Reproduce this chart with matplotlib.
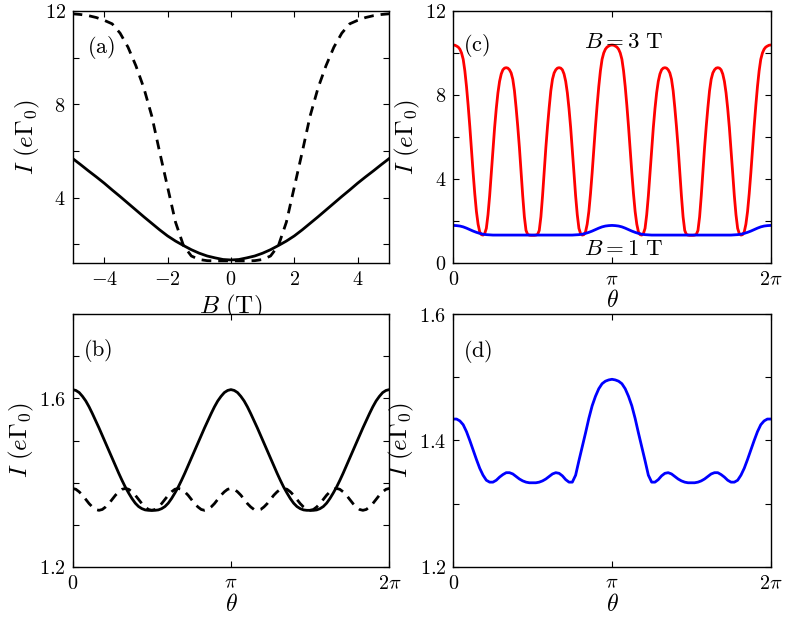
import matplotlib
matplotlib.use('Agg')
import matplotlib.pyplot as plt
import numpy as np

plt.rcParams['mathtext.fontset'] = 'cm'
plt.rcParams['font.family'] = ['DejaVu Serif']
plt.rcParams['xtick.direction'] = 'in'
plt.rcParams['ytick.direction'] = 'in'
plt.rcParams['xtick.top'] = True
plt.rcParams['ytick.right'] = True
plt.rcParams['xtick.major.size'] = 4
plt.rcParams['ytick.major.size'] = 4
plt.rcParams['axes.linewidth'] = 1.0

# ---------------- data ----------------
# panel (a): current vs magnetic field
B_field = np.arange(-5, 5.001, 0.25)
I_a_solid = [5.68, 5.42, 5.15, 4.89, 4.62, 4.33, 4.05, 3.76, 3.47, 3.18, 2.90,
             2.62, 2.36, 2.14, 1.95, 1.77, 1.62, 1.50, 1.42, 1.35, 1.33, 1.35,
             1.42, 1.50, 1.62, 1.77, 1.95, 2.14, 2.36, 2.62, 2.90, 3.18, 3.47,
             3.76, 4.05, 4.33, 4.62, 4.89, 5.15, 5.42, 5.68]
I_a_dashed = [11.88, 11.85, 11.80, 11.72, 11.60, 11.45, 11.05, 10.45, 9.65, 8.70,
              7.50, 5.95, 4.45, 2.95, 1.95, 1.50, 1.35, 1.30, 1.29, 1.29, 1.29,
              1.29, 1.29, 1.30, 1.35, 1.50, 1.95, 2.95, 4.45, 5.95, 7.50, 8.70,
              9.65, 10.45, 11.05, 11.45, 11.60, 11.72, 11.80, 11.85, 11.88]

# angle grids (units of pi)
theta_over_pi = np.linspace(0, 2, 97)       # step pi/48
theta_fine_over_pi = np.linspace(0, 2, 193)  # step pi/96

# panel (b)
I_b_solid = [1.621, 1.619, 1.614, 1.605, 1.594, 1.580, 1.564, 1.547, 1.530, 1.512,
             1.494, 1.476, 1.458, 1.440, 1.422, 1.405, 1.389, 1.375, 1.362, 1.351,
             1.343, 1.338, 1.335, 1.334, 1.334,
             1.334, 1.335, 1.338, 1.343, 1.351, 1.362, 1.375, 1.389, 1.405, 1.422,
             1.440, 1.458, 1.476, 1.494, 1.512, 1.530, 1.547, 1.564, 1.580, 1.594,
             1.605, 1.614, 1.619, 1.621,
             1.619, 1.614, 1.605, 1.594, 1.580, 1.564, 1.547, 1.530, 1.512,
             1.494, 1.476, 1.458, 1.440, 1.422, 1.405, 1.389, 1.375, 1.362, 1.351,
             1.343, 1.338, 1.335, 1.334, 1.334,
             1.334, 1.335, 1.338, 1.343, 1.351, 1.362, 1.375, 1.389, 1.405, 1.422,
             1.440, 1.458, 1.476, 1.494, 1.512, 1.530, 1.547, 1.564, 1.580, 1.594,
             1.605, 1.614, 1.619, 1.621]
I_b_dashed = [1.386, 1.384, 1.378, 1.370, 1.360, 1.350, 1.342, 1.336, 1.334, 1.336, 1.342, 1.350, 1.360, 1.370, 1.378, 1.384,
              1.386, 1.384, 1.378, 1.370, 1.360, 1.350, 1.342, 1.336, 1.334, 1.336, 1.342, 1.350, 1.360, 1.370, 1.378, 1.384,
              1.386, 1.384, 1.378, 1.370, 1.360, 1.350, 1.342, 1.336, 1.334, 1.336, 1.342, 1.350, 1.360, 1.370, 1.378, 1.384,
              1.386, 1.384, 1.378, 1.370, 1.360, 1.350, 1.342, 1.336, 1.334, 1.336, 1.342, 1.350, 1.360, 1.370, 1.378, 1.384,
              1.386, 1.384, 1.378, 1.370, 1.360, 1.350, 1.342, 1.336, 1.334, 1.336, 1.342, 1.350, 1.360, 1.370, 1.378, 1.384,
              1.386, 1.384, 1.378, 1.370, 1.360, 1.350, 1.342, 1.336, 1.334, 1.336, 1.342, 1.350, 1.360, 1.370, 1.378, 1.384,
              1.386]

# panel (c), B = 3 T (fine grid)
I_c_3T = [10.38, 10.37, 10.33, 10.28, 10.18, 10.00, 9.70, 9.15, 8.40, 7.50, 6.50, 5.40,
          4.30, 3.30, 2.45, 1.85, 1.48, 1.35, 1.33, 1.40, 1.65, 2.30, 3.20, 4.30, 5.40,
          6.45, 7.35, 8.10, 8.65, 9.00, 9.20, 9.28, 9.30, 9.28, 9.20, 9.05, 8.75, 8.20,
          7.40, 6.50, 5.50, 4.35, 3.20, 2.20, 1.55, 1.36, 1.33, 1.32, 1.32,
          1.32, 1.33, 1.36, 1.55, 2.20, 3.20, 4.35, 5.50, 6.50, 7.40, 8.20, 8.75, 9.05,
          9.20, 9.28, 9.30, 9.28, 9.20, 9.00, 8.65, 8.10, 7.35, 6.45, 5.40, 4.30, 3.20,
          2.30, 1.65, 1.40, 1.33, 1.35, 1.48, 1.85, 2.45, 3.30, 4.30, 5.40, 6.50, 7.50,
          8.40, 9.15, 9.70, 10.00, 10.18, 10.28, 10.33, 10.37, 10.38,
          10.37, 10.33, 10.28, 10.18, 10.00, 9.70, 9.15, 8.40, 7.50, 6.50, 5.40,
          4.30, 3.30, 2.45, 1.85, 1.48, 1.35, 1.33, 1.40, 1.65, 2.30, 3.20, 4.30, 5.40,
          6.45, 7.35, 8.10, 8.65, 9.00, 9.20, 9.28, 9.30, 9.28, 9.20, 9.05, 8.75, 8.20,
          7.40, 6.50, 5.50, 4.35, 3.20, 2.20, 1.55, 1.36, 1.33, 1.32, 1.32,
          1.32, 1.33, 1.36, 1.55, 2.20, 3.20, 4.35, 5.50, 6.50, 7.40, 8.20, 8.75, 9.05,
          9.20, 9.28, 9.30, 9.28, 9.20, 9.00, 8.65, 8.10, 7.35, 6.45, 5.40, 4.30, 3.20,
          2.30, 1.65, 1.40, 1.33, 1.35, 1.48, 1.85, 2.45, 3.30, 4.30, 5.40, 6.50, 7.50,
          8.40, 9.15, 9.70, 10.00, 10.18, 10.28, 10.33, 10.37, 10.38]
# panel (c), B = 1 T
I_c_1T = [1.79, 1.78, 1.76, 1.72, 1.66, 1.59, 1.52, 1.46, 1.41, 1.37, 1.35, 1.34,
          1.33, 1.33, 1.33, 1.33, 1.33, 1.33, 1.33, 1.33, 1.33, 1.33, 1.33, 1.33, 1.33,
          1.33, 1.33, 1.33, 1.33, 1.33, 1.33, 1.33, 1.33, 1.33, 1.33, 1.33, 1.33,
          1.34, 1.35, 1.37, 1.41, 1.46, 1.52, 1.59, 1.66, 1.72, 1.76, 1.78, 1.79,
          1.78, 1.76, 1.72, 1.66, 1.59, 1.52, 1.46, 1.41, 1.37, 1.35, 1.34,
          1.33, 1.33, 1.33, 1.33, 1.33, 1.33, 1.33, 1.33, 1.33, 1.33, 1.33, 1.33, 1.33,
          1.33, 1.33, 1.33, 1.33, 1.33, 1.33, 1.33, 1.33, 1.33, 1.33, 1.33, 1.33,
          1.34, 1.35, 1.37, 1.41, 1.46, 1.52, 1.59, 1.66, 1.72, 1.76, 1.78, 1.79]

# panel (d)
I_d = [1.434, 1.434, 1.431, 1.425, 1.414, 1.400, 1.385, 1.370, 1.356, 1.345, 1.337,
       1.334, 1.334, 1.337, 1.342, 1.346, 1.349, 1.349, 1.347, 1.343, 1.339, 1.336,
       1.334, 1.333, 1.333, 1.333, 1.334, 1.336, 1.339, 1.343, 1.347, 1.349, 1.348,
       1.344, 1.338, 1.334, 1.334, 1.345, 1.368, 1.390, 1.412, 1.435, 1.455, 1.470,
       1.482, 1.490, 1.494, 1.496, 1.497,
       1.496, 1.494, 1.490, 1.482, 1.470, 1.455, 1.435, 1.412, 1.390, 1.368, 1.345,
       1.334, 1.334, 1.338, 1.344, 1.348, 1.349, 1.347, 1.343, 1.339, 1.336, 1.334,
       1.333, 1.333, 1.333, 1.334, 1.336, 1.339, 1.343, 1.347, 1.349, 1.349, 1.346,
       1.342, 1.337, 1.334, 1.334, 1.337, 1.345, 1.356, 1.370, 1.385, 1.400, 1.414,
       1.425, 1.431, 1.434, 1.434]

# ---------------- figure ----------------
fig = plt.figure(figsize=(7.89, 6.25), dpi=100)
axa = fig.add_axes([0.0920, 0.5792, 0.4014, 0.4032])
axc = fig.add_axes([0.5745, 0.5792, 0.4023, 0.4032])
axb = fig.add_axes([0.0920, 0.0933, 0.4014, 0.4038])
axd = fig.add_axes([0.5745, 0.0933, 0.4023, 0.4038])

TICK_FS = 14.5
YLAB_FS = 18
XLAB_FS = 17
PANEL_FS = 16
ylab = r'$I\ (e\Gamma_0)$'
theta = theta_over_pi * np.pi
theta_fine = theta_fine_over_pi * np.pi
dash = (0, (3.5, 2.5))

for ax in (axa, axb, axc, axd):
    ax.tick_params(labelsize=TICK_FS, pad=5, width=0.8)

# (a)
axa.plot(B_field, I_a_solid, color='k', lw=2)
axa.plot(B_field, I_a_dashed, color='k', lw=2, ls=dash)
axa.set_xlim(-5, 5)
axa.set_ylim(1.2, 12)
axa.set_xticks([-4, -2, 0, 2, 4], [r'$-4$', r'$-2$', r'$0$', r'$2$', r'$4$'])
axa.set_yticks([2, 4, 6, 8, 10, 12], ['', r'$4$', '', r'$8$', '', r'$12$'])
axa.set_xlabel(r'$B\ (\mathrm{T})$', fontsize=YLAB_FS, labelpad=3)
axa.set_ylabel(ylab, fontsize=YLAB_FS, labelpad=2)
axa.text(0.045, 0.857, r'$\mathrm{(a)}$', transform=axa.transAxes, fontsize=PANEL_FS, va='center')

pi_ticks = [0, np.pi, 2 * np.pi]
pi_labels = [r'$0$', r'$\pi$', r'$2\pi$']

# (b)
axb.plot(theta, I_b_solid, color='k', lw=2)
axb.plot(theta, I_b_dashed, color='k', lw=2, ls=dash)
axb.set_xlim(0, 2 * np.pi)
axb.set_ylim(1.2, 1.8)
axb.set_xticks(pi_ticks, pi_labels)
axb.set_yticks([1.2, 1.3, 1.4, 1.5, 1.6, 1.7, 1.8], [r'$1.2$', '', '', '', r'$1.6$', '', ''])
axb.set_xlabel(r'$\theta$', fontsize=XLAB_FS, labelpad=0)
axb.set_ylabel(ylab, fontsize=YLAB_FS, labelpad=2)
axb.text(0.033, 0.857, r'$\mathrm{(b)}$', transform=axb.transAxes, fontsize=PANEL_FS, va='center')

# (c)
axc.plot(theta_fine, I_c_3T, color='red', lw=2)
axc.plot(theta, I_c_1T, color='blue', lw=2)
axc.set_xlim(0, 2 * np.pi)
axc.set_ylim(0, 12)
axc.set_xticks(pi_ticks, pi_labels)
axc.set_yticks([0, 2, 4, 6, 8, 10, 12], [r'$0$', '', r'$4$', '', r'$8$', '', r'$12$'])
axc.set_xlabel(r'$\theta$', fontsize=XLAB_FS, labelpad=0)
axc.set_ylabel(ylab, fontsize=YLAB_FS, labelpad=2)
axc.text(0.03, 0.865, r'$\mathrm{(c)}$', transform=axc.transAxes, fontsize=PANEL_FS, va='center')
axc.text(0.537, 0.878, r'$B = 3\ \mathrm{T}$', transform=axc.transAxes, fontsize=16.5, ha='center', va='center')
axc.text(0.537, 0.056, r'$B = 1\ \mathrm{T}$', transform=axc.transAxes, fontsize=16.5, ha='center', va='center')

# (d)
axd.plot(theta, I_d, color='blue', lw=2)
axd.set_xlim(0, 2 * np.pi)
axd.set_ylim(1.2, 1.6)
axd.set_xticks(pi_ticks, pi_labels)
axd.set_yticks([1.2, 1.3, 1.4, 1.5, 1.6], [r'$1.2$', '', r'$1.4$', '', r'$1.6$'])
axd.set_xlabel(r'$\theta$', fontsize=XLAB_FS, labelpad=0)
axd.set_ylabel(ylab, fontsize=YLAB_FS, labelpad=2)
axd.text(0.032, 0.852, r'$\mathrm{(d)}$', transform=axd.transAxes, fontsize=PANEL_FS, va='center')

fig.savefig('out.png', dpi=100)
